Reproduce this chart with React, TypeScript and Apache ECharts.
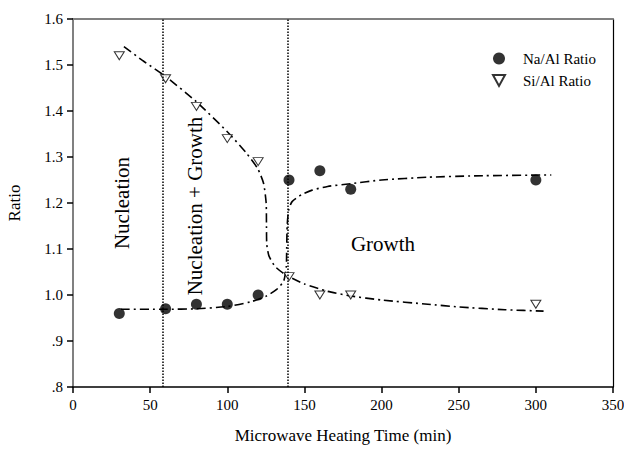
import React, { useEffect, useRef } from "react";
import * as echarts from "echarts";

const naAlTime = [30, 60, 80, 100, 120, 140, 160, 180, 300];
const naAlRatio = [0.96, 0.97, 0.98, 0.98, 1.0, 1.25, 1.27, 1.23, 1.25];
const siAlTime = [30, 60, 80, 100, 120, 140, 160, 180, 300];
const siAlRatio = [1.52, 1.47, 1.41, 1.34, 1.29, 1.04, 1.0, 1.0, 0.98];

// hand-read points along the dash-dot fit curves
const naFitCurve: [number, number][] = [
  [31, 0.969], [60, 0.969], [80, 0.970], [100, 0.975], [115, 0.985], [125, 0.997],
  [132, 1.012], [136.5, 1.03], [138.2, 1.06], [138.5, 1.10], [138.8, 1.15],
  [139.8, 1.185], [142, 1.203], [148, 1.218], [155, 1.228], [165, 1.236],
  [180, 1.242], [200, 1.25], [230, 1.256], [260, 1.259], [310, 1.261],
];
const siFitCurve: [number, number][] = [
  [33, 1.54], [45, 1.51], [60, 1.475], [80, 1.42], [100, 1.355], [112, 1.31],
  [119.7, 1.275], [123.5, 1.243], [125.2, 1.2], [125.4, 1.15], [125.6, 1.11],
  [127, 1.085], [131, 1.062], [136, 1.048], [140, 1.04], [150, 1.024],
  [165, 1.008], [180, 0.998], [200, 0.989], [230, 0.98], [250, 0.974],
  [280, 0.968], [305, 0.965],
];
const phaseBoundaries = [58, 139];
const xTicks = { min: 0, max: 350, interval: 50 };
const yTicks = { min: 0.8, max: 1.6, interval: 0.1 };

const FONT = "serif";

export default function App() {
  const ref = useRef<HTMLDivElement>(null);
  useEffect(() => {
    if (!ref.current) return;
    const chart = echarts.init(ref.current, undefined, { renderer: "svg" });
    const dashDot = [9, 4, 2, 4];
    chart.setOption({
      animation: false,
      backgroundColor: "#ffffff",
      textStyle: { fontFamily: FONT, color: "#000" },
      grid: { left: 73, right: 11, top: 19, bottom: 62, containLabel: false, outerBoundsMode: "none" },
      legend: {
        orient: "vertical",
        left: 487,
        top: 46,
        itemWidth: 12,
        itemHeight: 12,
        itemGap: 7,
        data: [
          { name: "Na/Al Ratio", icon: "circle" },
          { name: "Si/Al Ratio", icon: "path://M0,0 L10,0 L5,9 Z" },
        ],
        textStyle: { fontFamily: FONT, fontSize: 15, color: "#000", padding: [0, 0, 0, 13] },
      },
      xAxis: [
        {
          type: "value",
          min: xTicks.min,
          max: xTicks.max,
          interval: xTicks.interval,
          name: "Microwave Heating Time (min)",
          nameLocation: "middle",
          nameGap: 40,
          nameTextStyle: { fontFamily: FONT, fontSize: 17, color: "#000" },
          axisLine: { onZero: false, lineStyle: { color: "#000", width: 1.5 } },
          axisTick: { show: true, length: 6, inside: false, lineStyle: { color: "#000", width: 1.5 } },
          axisLabel: { fontFamily: FONT, fontSize: 15, color: "#000", margin: 10 },
          splitLine: { show: false },
        },
        {
          type: "value",
          position: "top",
          min: xTicks.min,
          max: xTicks.max,
          axisLine: { show: true, onZero: false, lineStyle: { color: "#808080", width: 2 } },
          axisTick: { show: false },
          axisLabel: { show: false },
          splitLine: { show: false },
        },
      ],
      yAxis: [
        {
          type: "value",
          min: yTicks.min,
          max: yTicks.max,
          interval: yTicks.interval,
          name: "Ratio",
          nameLocation: "middle",
          nameGap: 50,
          nameRotate: 90,
          nameTextStyle: { fontFamily: FONT, fontSize: 17, color: "#000" },
          axisLine: { show: true, onZero: false, lineStyle: { color: "#808080", width: 2 } },
          axisTick: { show: true, length: 6, lineStyle: { color: "#000", width: 1.5 } },
          axisLabel: {
            fontFamily: FONT,
            fontSize: 15,
            color: "#000",
            margin: 10,
            formatter: (v: number) => {
              const s = v.toFixed(1);
              return v < 1 ? s.replace(/^0/, "") : s;
            },
          },
          splitLine: { show: false },
        },
        {
          type: "value",
          position: "right",
          min: yTicks.min,
          max: yTicks.max,
          axisLine: { show: true, onZero: false, lineStyle: { color: "#000", width: 1.2 } },
          axisTick: { show: false },
          axisLabel: { show: false },
          splitLine: { show: false },
        },
      ],
      series: [
        {
          name: "Na/Al fit",
          type: "line",
          data: naFitCurve,
          showSymbol: false,
          symbol: "none",
          smooth: 0.2,
          lineStyle: { color: "#000", width: 1.6, type: dashDot },
          silent: true,
          z: 1,
          markLine: {
            silent: true,
            symbol: "none",
            label: { show: false },
            lineStyle: { color: "#000", width: 1.5, type: [1.5, 1.5] },
            data: phaseBoundaries.map((x) => ({ xAxis: x })),
          },
        },
        {
          name: "Si/Al fit",
          type: "line",
          data: siFitCurve,
          showSymbol: false,
          symbol: "none",
          smooth: 0.2,
          lineStyle: { color: "#000", width: 1.6, type: dashDot },
          silent: true,
          z: 1,
        },
        {
          name: "Na/Al Ratio",
          type: "scatter",
          data: naAlTime.map((t, i) => [t, naAlRatio[i]]),
          symbol: "circle",
          symbolSize: 11,
          itemStyle: { color: "#000" },
          z: 3,
        },
        {
          name: "Si/Al Ratio",
          type: "scatter",
          data: siAlTime.map((t, i) => [t, siAlRatio[i]]),
          symbol: "triangle",
          symbolRotate: 180,
          symbolSize: [10, 8],
          itemStyle: { color: "#fff", borderColor: "#000", borderWidth: 1 },
          z: 3,
        },
      ],
      graphic: [
        {
          type: "text",
          x: 122,
          y: 203,
          rotation: Math.PI / 2,
          style: {
            text: "Nucleation",
            fontFamily: FONT,
            fontSize: 21,
            fill: "#000",
            align: "center",
            verticalAlign: "middle",
          },
        },
        {
          type: "text",
          x: 195,
          y: 206,
          rotation: Math.PI / 2,
          style: {
            text: "Nucleation + Growth",
            fontFamily: FONT,
            fontSize: 21,
            fill: "#000",
            align: "center",
            verticalAlign: "middle",
          },
        },
        {
          type: "text",
          x: 383,
          y: 244,
          style: {
            text: "Growth",
            fontFamily: FONT,
            fontSize: 21,
            fill: "#000",
            align: "center",
            verticalAlign: "middle",
          },
        },
      ],
    });
    return () => chart.dispose();
  }, []);
  return <div ref={ref} style={{ width: 624, height: 449, position: "absolute", left: 0, top: 0 }} />;
}
